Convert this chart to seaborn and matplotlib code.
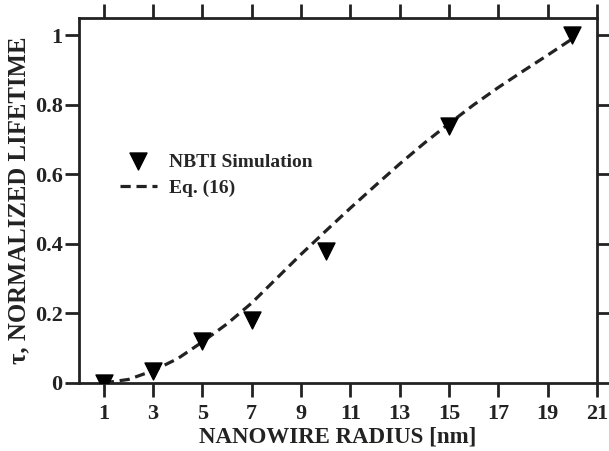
import numpy as np
import pandas as pd
import matplotlib
matplotlib.use("Agg")
import matplotlib.pyplot as plt
import seaborn as sns

sns.set_theme(style="ticks")
plt.rcParams['font.family'] = ['Liberation Serif', 'DejaVu Serif']
plt.rcParams['font.weight'] = 'bold'

# NBTI simulation points
sim_radius = [1, 3, 5, 7, 10, 15, 20]
sim_tau = [0.0, 0.035, 0.12, 0.18, 0.38, 0.74, 1.0]

# Eq. (16) curve
eq_radius = [1, 2, 3, 4, 5, 6, 7, 8, 9, 10, 11, 12, 13, 14, 15, 16, 17, 18, 19, 20]
eq_tau = [0.0, 0.01, 0.035, 0.07, 0.118, 0.17, 0.23, 0.30, 0.37, 0.437, 0.503,
          0.567, 0.63, 0.69, 0.746, 0.80, 0.85, 0.897, 0.943, 0.99]

x_ticks = [1, 3, 5, 7, 9, 11, 13, 15, 17, 19, 21]
y_ticks = [0, 0.2, 0.4, 0.6, 0.8, 1.0]
y_labels = ['0', '0.2', '0.4', '0.6', '0.8', '1']

sim = pd.DataFrame({'r': sim_radius, 'tau': sim_tau})
eq = pd.DataFrame({'r': eq_radius, 'tau': eq_tau})

fig = plt.figure(figsize=(6.09, 4.51), dpi=100)
ax = fig.add_axes([0.13, 0.151, 0.850, 0.809])

sns.lineplot(data=eq, x='r', y='tau', ax=ax, color='#222222', lw=2.3,
             linestyle=(0, (3.2, 1.8)), label='Eq. (16)')
sns.scatterplot(data=sim, x='r', y='tau', ax=ax, marker='v', s=150,
                color='black', edgecolor='black', label='NBTI Simulation',
                zorder=5)

ax.set_xlim(0, 21)
ax.set_ylim(0, 1.05)
ax.set_xticks(x_ticks)
ax.set_yticks(y_ticks)
ax.set_yticklabels(y_labels)

ax.tick_params(axis='both', direction='out', length=10, width=2,
               labelsize=16, top=True, right=True, colors='#222222')
ax.tick_params(axis='x', pad=5)
ax.tick_params(axis='y', pad=2)
for lab in ax.get_xticklabels() + ax.get_yticklabels():
    lab.set_fontweight('bold')
for sp in ax.spines.values():
    sp.set_linewidth(2)
    sp.set_color('#222222')

ax.set_xlabel('NANOWIRE RADIUS [nm]', fontsize=16.5, fontweight='bold',
              color='#222222', labelpad=2)
ax.set_ylabel('τ, NORMALIZED LIFETIME', fontsize=17.8, fontweight='bold',
              color='#222222', labelpad=3)

handles, labels = ax.get_legend_handles_labels()
ax.legend(handles[::-1], labels[::-1], loc='center left',
          bbox_to_anchor=(0.045, 0.57), frameon=False,
          prop={'size': 14, 'weight': 'bold'}, handlelength=1.9,
          handletextpad=0.6, labelspacing=0.45)

fig.savefig('out.png', dpi=100)
